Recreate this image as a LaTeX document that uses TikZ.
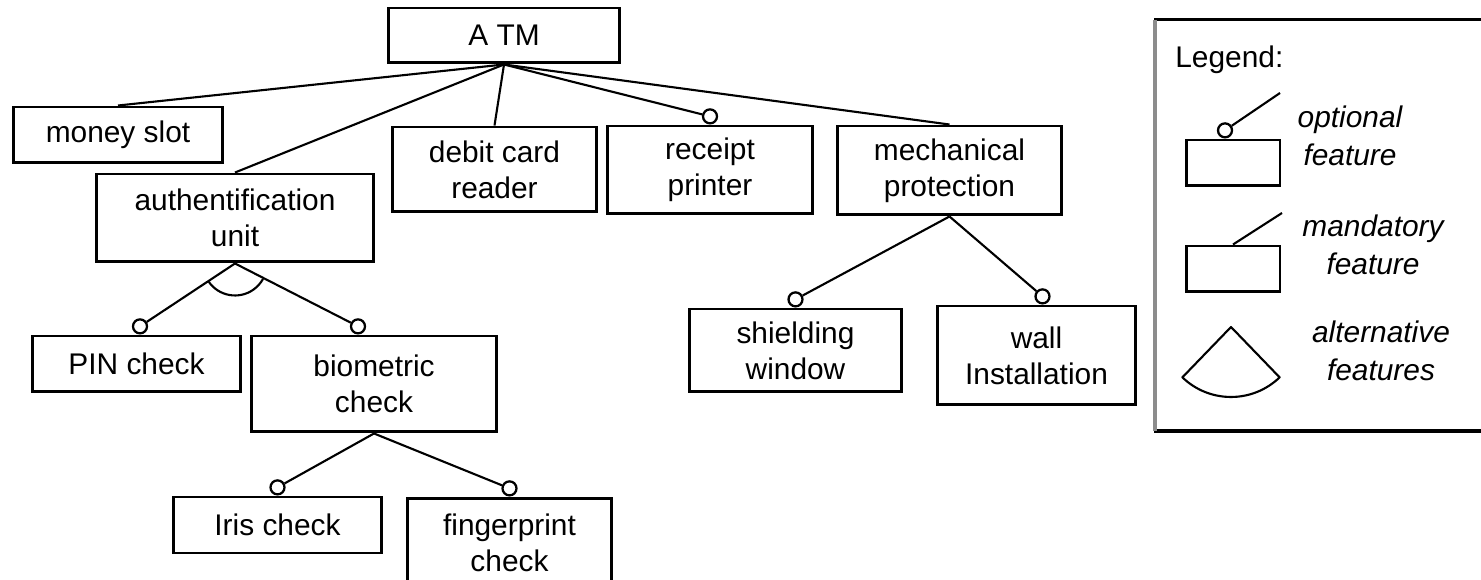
\documentclass[tikz,border=0pt]{standalone}
\usepackage{fontspec}
\setmainfont{Liberation Sans}
\usetikzlibrary{calc}

\begin{document}
\begin{tikzpicture}[x=0.02cm, y=-0.02cm]
    \clip (0,0) rectangle (1481,580);
    \begin{scope}
        \tikzstyle{every node}=[fill=white, draw=black, rectangle, line width=1.7pt, inner sep=0pt, align=center, text=black, font=\fontsize{17}{20.5}\selectfont]
        \node[minimum width=4.64cm, minimum height=1.10cm] (atm) at (504,35.5) {A TM};
        \node[minimum width=4.20cm, minimum height=1.12cm] (slot) at (118,135) {money slot};
        \node[minimum width=5.56cm, minimum height=1.76cm] (auth) at (235,218) {authentification\\unit};
        \node[minimum width=4.10cm, minimum height=1.70cm] (debit) at (494.5,169.5) {debit card\\reader};
        \node[minimum width=4.12cm, minimum height=1.76cm] (rec) at (710,170) {receipt\\printer};
        \node[minimum width=4.50cm, minimum height=1.78cm] (mech) at (949.5,170.5) {mechanical\\protection};
        \node[minimum width=4.18cm, minimum height=1.12cm] (pin) at (136.5,364) {PIN check};
        \node[minimum width=4.92cm, minimum height=1.92cm] (bio) at (374,384) {biometric\\check};
        \node[minimum width=4.26cm, minimum height=1.66cm] (shield) at (795.5,350.5) {shielding\\window};
        \node[minimum width=3.98cm, minimum height=1.98cm] (wall) at (1036.5,355.5) {wall\\Installation};
        \node[minimum width=4.18cm, minimum height=1.12cm] (iris) at (277.5,525) {Iris check};
        \node[minimum width=4.10cm, minimum height=1.80cm] (fing) at (509.5,543) {fingerprint\\check};
        \node[minimum width=1.88cm, minimum height=0.92cm] (optbox) at (1233,163) {};
        \node[minimum width=1.88cm, minimum height=0.92cm] (mandbox) at (1233,269) {};
    \end{scope}
    \begin{scope}
        \tikzstyle{every node}=[fill=white, draw=black, circle, line width=1.3pt, inner sep=0pt, minimum size=0.28cm, anchor=south]
        \node (recc) at (rec.north) {};
        \node[xshift=0.07cm] (pinc) at (pin.north) {};
        \node[xshift=-0.32cm] (bioc) at (bio.north) {};
        \node (irisc) at (iris.north) {};
        \node (fingc) at (fing.north) {};
        \node (shieldc) at (shield.north) {};
        \node[xshift=0.12cm] (wallc) at (wall.north) {};
        \node[xshift=-0.16cm] (optc) at (optbox.north) {};
    \end{scope}
    \coordinate (optend) at (1280,93);
    \coordinate (mandend) at (1282,213);
    \coordinate (alt) at (1231,327);
    \begin{scope}
        \tikzstyle{every edge}=[draw, line width=1.2pt]
        \path
        (atm.south) edge (slot.north)
        (atm.south) edge (auth.north)
        (atm.south) edge (debit.north)
        (atm.south) edge (recc)
        (atm.south) edge (mech.north)
        (auth.south) edge (pinc)
        (auth.south) edge (bioc)
        (bio.south) edge (irisc)
        (bio.south) edge (fingc)
        (mech.south) edge (shieldc)
        (mech.south) edge (wallc)
        (optc) edge (optend)
        (mandbox.north) edge (mandend);
        \draw[line width=1.2pt] ($(auth.south)+(215:0.64cm)$) arc (215:331:0.64cm);
        \draw[line width=1.2pt, line join=round] (alt) -- ++(226:1.4cm) arc (226:314:1.4cm) -- cycle;
    \end{scope}
    \draw[line width=1.7pt] (1154,20) -- (1490,20);
    \draw[line width=2.3pt] (1154,431) -- (1490,431);
    \draw[line width=2.2pt, black!45] (1155,20) -- (1155,431);
    \begin{scope}
        \tikzstyle{every node}=[align=center, inner sep=0pt, font=\fontsize{17}{21.5}\selectfont\itshape]
        \node[anchor=base west, font=\fontsize{17}{21.5}\selectfont] (leg) at (1175,68) {Legend:};
        \node (opttxt) at (1350,136) {optional\\feature};
        \node (mandtxt) at (1373,245) {mandatory\\feature};
        \node (alttxt) at (1381,351) {alternative\\features};
    \end{scope}
\end{tikzpicture}
\end{document}
